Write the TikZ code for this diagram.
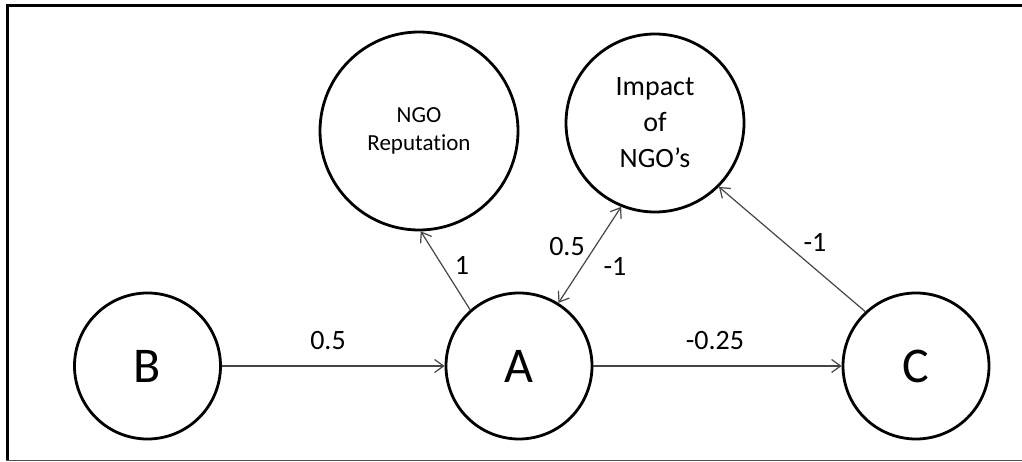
\documentclass[tikz,border=0pt]{standalone}
\usepackage{fontspec}
\setmainfont{Carlito}[Ligatures=NoCommon]
\usetikzlibrary{arrows.meta}
\definecolor{linkgray}{HTML}{454545}
\definecolor{rulegray}{HTML}{505050}
\begin{document}
\begin{tikzpicture}[x=1pt, y=-1pt,
  >={Straight Barb[length=9pt,width=13pt]},
  concept/.style={circle, draw=black, line width=2.8pt, inner sep=0pt, align=center},
  letternode/.style={concept, minimum size=146pt, font=\fontsize{50}{60}\selectfont},
  link/.style={draw=linkgray, line width=1.2pt, ->},
  twoway/.style={draw=linkgray, line width=1.2pt, <->},
  weight/.style={font=\fontsize{28}{34}\selectfont, inner sep=0pt}]
\useasboundingbox (0,0) rectangle (1022,462);

% frame
\draw[line width=3.3pt] (6.2,5.5) -- (1022,5.5);
\draw[line width=3.3pt] (7.8,4) -- (7.8,460.5);
\draw[rulegray, line width=1.4pt] (6.2,460.6) -- (1022,460.6);

% concepts
\node[letternode] (B) at (147.5,366) {B};
\node[letternode] (A) at (519,366) {A};
\node[letternode] (C) at (916,366) {C};
\node[concept, minimum size=198pt, font=\fontsize{23}{28}\selectfont] (R) at (419,131) {NGO\\Reputation};
\node[concept, minimum size=178pt, font=\fontsize{28}{36}\selectfont] (I) at (655,123) {Impact\\of\\NGO’s};

% weighted links
\draw[link] (B) -- (A);
\draw[link] (A) -- (C);
\draw[link] (A.131.9) -- (R.271);
\draw[twoway] (A.58.2) -- (I.248);
\draw[link] (C.133.4) -- (I.315);

% weights
\node[weight] (wBA) at (328,341) {0.5};
\node[weight] (wAC) at (715,341) {-0.25};
\node[weight] (wAR) at (462,265) {1};
\node[weight] (wAI) at (567,247) {0.5};
\node[weight] (wIA) at (615,266) {-1};
\node[weight] (wCI) at (815,242) {-1};
\end{tikzpicture}
\end{document}
